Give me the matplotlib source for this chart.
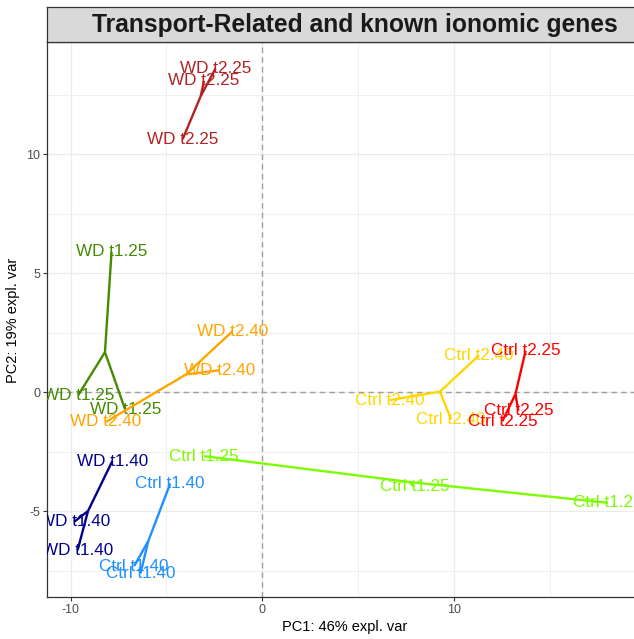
import numpy as np
import matplotlib
matplotlib.use("Agg")
import matplotlib.pyplot as plt

plt.rcParams['font.family'] = ['Liberation Sans', 'DejaVu Sans']
plt.rcParams['axes.unicode_minus'] = False

# sample groups, colours and PCA scores (3 replicates per group)
groups = ["WD t2.25", "WD t1.25", "WD t2.40", "WD t1.40",
          "Ctrl t2.40", "Ctrl t2.25", "Ctrl t1.25", "Ctrl t1.40"]
colors = ["#B22222", "#458B00", "#FFA500", "#00008B",
          "#FFD700", "#FF0000", "#7CFC00", "#1E90FF"]
pc1 = [[-4.15, -2.44, -3.04],
       [-7.86, -9.60, -7.15],
       [-1.55, -2.23, -8.15],
       [-7.82, -9.81, -9.63],
       [11.31, 6.63, 9.85],
       [13.73, 13.35, 12.52],
       [-3.03, 7.94, 18.03],
       [-4.80, -6.68, -6.35]]
pc2 = [[10.63, 13.60, 13.08],
       [5.89, -0.13, -0.73],
       [2.56, 0.92, -1.25],
       [-2.90, -5.45, -6.64],
       [1.55, -0.34, -1.15],
       [1.74, -0.78, -1.22],
       [-2.69, -3.98, -4.65],
       [-3.84, -7.31, -7.62]]

title = "Transport-Related and known ionomic genes"
xlab = "PC1: 46% expl. var"
ylab = "PC2: 19% expl. var"

fig = plt.figure(figsize=(6.34, 6.39), dpi=100)
ax = fig.add_axes([0.0749, 0.0657, 0.971, 0.8685])
strip = fig.add_axes([0.0749, 0.9343, 0.971, 0.054])

ax.set_xlim(-11.2, 20.9)
ax.set_ylim(-8.61, 14.71)

# grid like theme_bw
ax.set_xticks([-10, 0, 10, 20])
ax.set_xticks([-5, 5, 15], minor=True)
ax.set_yticks([-5, 0, 5, 10])
ax.set_yticks([-7.5, -2.5, 2.5, 7.5, 12.5], minor=True)
ax.grid(True, which='major', color='#EBEBEB', lw=0.9, zorder=0)
ax.grid(True, which='minor', color='#F0F0F0', lw=0.7, zorder=0)
ax.set_axisbelow(True)
ax.tick_params(which='minor', length=0)
ax.tick_params(which='major', length=3, width=0.8, color='#333333',
               labelcolor='#4D4D4D', labelsize=9, pad=2)
for s in ax.spines.values():
    s.set_color('#333333')
    s.set_linewidth(0.9)

ax.axhline(0, color='#A0A0A0', lw=1, ls=(0, (4, 3)), zorder=1)
ax.axvline(0, color='#A0A0A0', lw=1, ls=(0, (4, 3)), zorder=1)

for name, col, xs, ys in zip(groups, colors, pc1, pc2):
    cx, cy = np.mean(xs), np.mean(ys)
    for x, y in zip(xs, ys):
        ax.text(x, y, name, color=col, fontsize=12.3, ha='center',
                va='center', clip_on=True, zorder=3)
        ax.plot([cx, x], [cy, y], color=col, lw=1.7, zorder=4,
                solid_capstyle='butt')

# axis titles
fig.text(345 / 634, 1 - 627 / 639, xlab, fontsize=10.5, ha='center', va='center')
fig.text(13 / 634, 1 - 320 / 639, ylab, fontsize=10.5, ha='center',
         va='center', rotation=90)

strip.set_facecolor('#D9D9D9')
strip.set_xticks([])
strip.set_yticks([])
for s in strip.spines.values():
    s.set_color('#333333')
    s.set_linewidth(0.9)
strip.text(0.5, 0.48, title, transform=strip.transAxes, ha='center',
           va='center', fontsize=17.7, fontweight='bold', color='#1A1A1A')

fig.savefig('out.png', dpi=100)
